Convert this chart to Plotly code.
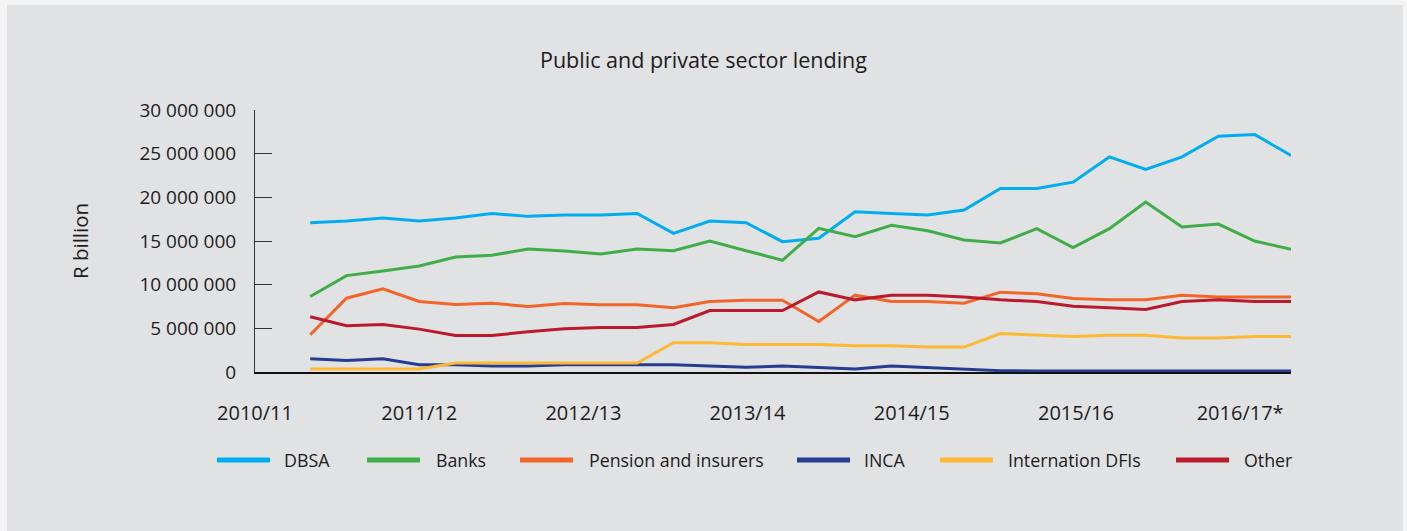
import plotly.graph_objects as go

# Quarterly observations, indexed 0..27
periods = list(range(28))

year_labels = ["2010/11", "2011/12", "2012/13", "2013/14", "2014/15", "2015/16", "2016/17*"]

dbsa = [17090000, 17280000, 17630000, 17280000, 17630000, 18160000, 17820000, 17970000,
        17970000, 18160000, 15880000, 17280000, 17090000, 14920000, 15310000, 18350000,
        18160000, 17970000, 18540000, 21020000, 21020000, 21740000, 24630000, 23190000,
        24630000, 27000000, 27190000, 24790000]

banks = [8640000, 11040000, 11570000, 12140000, 13170000, 13360000, 14090000, 13850000,
         13510000, 14090000, 13890000, 15000000, 13890000, 12790000, 16450000, 15500000,
         16790000, 16180000, 15120000, 14770000, 16410000, 14240000, 16410000, 19460000,
         16600000, 16940000, 15000000, 14050000]

pension = [4260000, 8450000, 9520000, 8070000, 7730000, 7880000, 7500000, 7840000,
           7690000, 7690000, 7350000, 8070000, 8220000, 8220000, 5780000, 8800000,
           8070000, 8070000, 7880000, 9140000, 8950000, 8410000, 8260000, 8260000,
           8800000, 8600000, 8600000, 8600000]

inca = [1520000, 1330000, 1520000, 830000, 830000, 690000, 690000, 830000,
        830000, 830000, 830000, 690000, 530000, 690000, 530000, 340000,
        690000, 500000, 340000, 150000, 120000, 120000, 120000, 120000,
        120000, 120000, 120000, 120000]

intl_dfis = [340000, 340000, 340000, 340000, 1020000, 1020000, 1020000, 1020000,
             1020000, 1020000, 3350000, 3350000, 3160000, 3160000, 3160000, 3000000,
             3000000, 2850000, 2850000, 4410000, 4220000, 4070000, 4220000, 4220000,
             3880000, 3880000, 4070000, 4070000]

other = [6320000, 5290000, 5440000, 4910000, 4180000, 4180000, 4600000, 4950000,
         5100000, 5100000, 5440000, 7040000, 7040000, 7040000, 9170000, 8260000,
         8800000, 8800000, 8600000, 8260000, 8070000, 7540000, 7350000, 7150000,
         8070000, 8260000, 8070000, 8070000]

series = [
    ("DBSA", dbsa, "#00AEEF"),
    ("Banks", banks, "#41AD49"),
    ("Pension and insurers", pension, "#F26529"),
    ("INCA", inca, "#263D8F"),
    ("Internation DFIs", intl_dfis, "#FDB933"),
    ("Other", other, "#BB1A2C"),
]

FONT = "Open Sans"
TEXT = "#1E1B1C"
W, H = 1407, 531
ML, MR, MT, MB = 255, 116, 110, 159
PW, PH = W - ML - MR, H - MT - MB


def px(x):
    return (x - ML) / PW


def py(y):
    return (H - MB - y) / PH


fig = go.Figure()
for name, vals, color in series:
    fig.add_trace(go.Scatter(x=periods, y=vals, name=name, mode="lines",
                             line=dict(color=color, width=3), showlegend=False))

shapes = [
    # light frame around the grey panel
    dict(type="rect", xref="paper", yref="paper", x0=px(7), x1=px(1403), y0=py(540), y1=py(5),
         fillcolor="#E1E2E4", line=dict(width=0), layer="below"),
]
annotations = [
    dict(text="R billion", xref="paper", yref="paper", x=px(80), y=0.5, textangle=-90,
         showarrow=False, xanchor="center", yanchor="middle",
         font=dict(family=FONT, size=20.5, color=TEXT)),
]

# legend drawn as line swatches with labels
legend_slots = [(217, 282), (367, 434), (520, 587), (797, 862), (940, 1006), (1176, 1242)]
for (name, _, color), (lx, tx) in zip(series, legend_slots):
    shapes.append(dict(type="line", xref="paper", yref="paper", x0=px(lx), x1=px(lx + 53),
                       y0=py(460), y1=py(460), line=dict(color=color, width=5)))
    annotations.append(dict(text=name, xref="paper", yref="paper", x=px(tx), y=py(460),
                            showarrow=False, xanchor="left", yanchor="middle",
                            font=dict(family=FONT, size=17.8, color=TEXT)))

tick_start, tick_step = -1.52, 4.52
fig.update_layout(
    width=W, height=H,
    margin=dict(l=ML, r=MR, t=MT, b=MB, pad=0),
    paper_bgcolor="#F4F4F4",
    plot_bgcolor="rgba(0,0,0,0)",
    separators=". ",
    font=dict(family=FONT, color=TEXT),
    title=dict(text="Public and private sector lending", x=0.5, xanchor="center",
               y=1 - 60 / H, yanchor="middle", font=dict(family=FONT, size=21.5, color=TEXT)),
    xaxis=dict(range=[-1.52, 27.0], showgrid=False, zeroline=False, showline=True,
               linecolor="#111111", linewidth=1.5, ticks="",
               tickmode="array",
               tickvals=[tick_start + tick_step * i for i in range(len(year_labels))],
               ticktext=year_labels, ticklabelstandoff=22,
               tickfont=dict(family=FONT, size=20, color=TEXT)),
    yaxis=dict(range=[0, 30000000], showgrid=False, zeroline=False, showline=True,
               linecolor="#333333", linewidth=1, ticks="inside", ticklen=17,
               tickcolor="#333333", tickwidth=1, dtick=5000000, tickformat=",d",
               ticklabelstandoff=14, tickfont=dict(family=FONT, size=19, color=TEXT)),
    shapes=shapes,
    annotations=annotations,
    hovermode=False,
)

fig.write_html("out.html")
